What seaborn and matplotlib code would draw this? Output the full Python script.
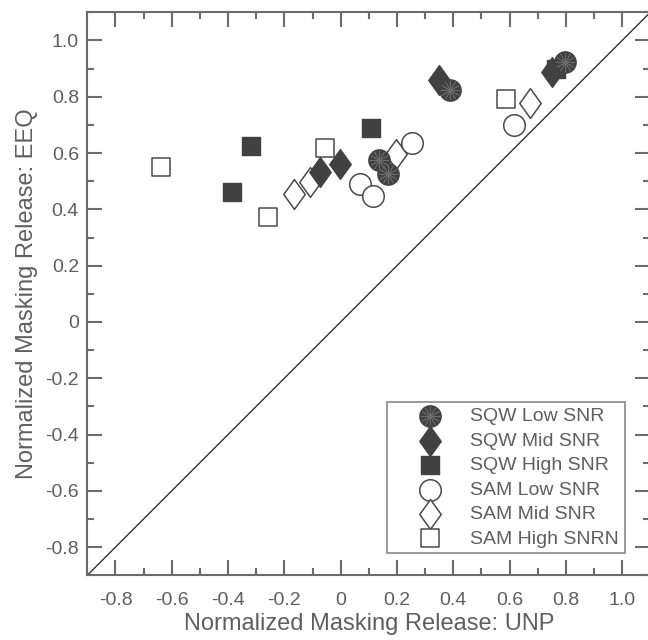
import numpy as np
import pandas as pd
import matplotlib
matplotlib.use("Agg")
import matplotlib.pyplot as plt
import seaborn as sns
from matplotlib.ticker import FixedLocator, FixedFormatter, MultipleLocator
from matplotlib.markers import MarkerStyle
from matplotlib.path import Path
from matplotlib.legend_handler import HandlerTuple

# ---------------- data ----------------
sqw_low_x = [0.138, 0.167, 0.387, 0.796]
sqw_low_y = [0.577, 0.526, 0.825, 0.923]
sqw_mid_x = [-0.073, -0.002, 0.349, 0.752]
sqw_mid_y = [0.532, 0.562, 0.858, 0.887]
sqw_high_x = [-0.387, -0.317, 0.108, 0.765]
sqw_high_y = [0.462, 0.624, 0.688, 0.900]
sam_low_x = [0.068, 0.114, 0.255, 0.615]
sam_low_y = [0.491, 0.446, 0.636, 0.701]
sam_mid_x = [-0.167, -0.110, 0.196, 0.674]
sam_mid_y = [0.455, 0.496, 0.597, 0.777]
sam_high_x = [-0.637, -0.259, -0.055, 0.586]
sam_high_y = [0.550, 0.374, 0.619, 0.793]

series_labels = ["SQW Low SNR", "SQW Mid SNR", "SQW High SNR",
                 "SAM Low SNR", "SAM Mid SNR", "SAM High SNRN"]
tick_values = [-0.8, -0.6, -0.4, -0.2, 0.0, 0.2, 0.4, 0.6, 0.8, 1.0]
tick_labels = ["-0.8", "-0.6", "-0.4", "-0.2", "0", "0.2", "0.4", "0.6", "0.8", "1.0"]
x_label = "Normalized Masking Release: UNP"
y_label = "Normalized Masking Release: EEQ"

# ---------------- style ----------------
sns.set_theme(style="white")
plt.rcParams["font.family"] = ["Liberation Sans", "DejaVu Sans"]
GREY = "#6b6b6b"
TXT = "#5f5f5f"
DARK = "#414141"
OPEN_EDGE = "#4a4a4a"

diamond = MarkerStyle(Path([(0, 1), (0.72, 0), (0, -1), (-0.72, 0), (0, 1)],
                           [Path.MOVETO, Path.LINETO, Path.LINETO, Path.LINETO, Path.CLOSEPOLY]))

fig = plt.figure(figsize=(6.48, 6.40), dpi=100)
ax = fig.add_axes([87.3 / 648, 64.7 / 640, 563 / 648, 563 / 640])

lim = (-0.9, 1.1)
ax.plot(lim, lim, color="#333333", lw=1.0, zorder=1)

frames = {
    "SAM High SNRN": (sam_high_x, sam_high_y),
    "SAM Mid SNR": (sam_mid_x, sam_mid_y),
    "SAM Low SNR": (sam_low_x, sam_low_y),
    "SQW High SNR": (sqw_high_x, sqw_high_y),
    "SQW Mid SNR": (sqw_mid_x, sqw_mid_y),
    "SQW Low SNR": (sqw_low_x, sqw_low_y),
}
styles = {
    "SAM High SNRN": dict(marker="s", s=172, facecolor="white", edgecolor=OPEN_EDGE, linewidth=1.1),
    "SAM Mid SNR": dict(marker=diamond, s=460, facecolor="white", edgecolor=OPEN_EDGE, linewidth=1.1),
    "SAM Low SNR": dict(marker="o", s=240, facecolor="white", edgecolor=OPEN_EDGE, linewidth=1.1),
    "SQW High SNR": dict(marker="s", s=172, facecolor=DARK, edgecolor=DARK, linewidth=1.0),
    "SQW Mid SNR": dict(marker=diamond, s=460, facecolor=DARK, edgecolor=DARK, linewidth=1.0),
    "SQW Low SNR": dict(marker="o", s=235, facecolor=DARK, edgecolor=DARK, linewidth=1.0),
}

handles = {}
z = 3
for name, (xs, ys) in frames.items():
    df = pd.DataFrame({"x": xs, "y": ys})
    st = styles[name]
    sns.scatterplot(data=df, x="x", y="y", ax=ax, marker=st["marker"], s=st["s"],
                    color=st["facecolor"], edgecolor=st["edgecolor"],
                    linewidth=st["linewidth"], zorder=z, legend=False)
    handles[name] = ax.collections[-1]
    z += 1

# starburst texture on SQW low circles
df_low = pd.DataFrame({"x": sqw_low_x, "y": sqw_low_y})
sns.scatterplot(data=df_low, x="x", y="y", ax=ax, marker=(12, 2, 0), s=190,
                color="#6c6c6c", linewidth=0.45, zorder=z, legend=False)
star_handle = ax.collections[-1]

ax.set_xlim(lim)
ax.set_ylim(lim)
ax.set_aspect("equal", adjustable="box")

for axis in (ax.xaxis, ax.yaxis):
    axis.set_major_locator(FixedLocator(tick_values))
    axis.set_major_formatter(FixedFormatter(tick_labels))
    axis.set_minor_locator(MultipleLocator(0.1))

ax.tick_params(which="both", direction="in", top=True, right=True, bottom=True, left=True,
               color=GREY, labelcolor=TXT, labelsize=14)
ax.tick_params(which="major", length=10.8, width=1.5)
ax.tick_params(which="minor", length=5.2, width=1.5)
ax.tick_params(axis="x", which="major", pad=12)
ax.tick_params(axis="y", which="major", pad=6)

for sp in ax.spines.values():
    sp.set_color(GREY)
    sp.set_linewidth(1.5)
    sp.set_visible(True)

ax.set_xlabel(x_label, fontsize=17, color=TXT, labelpad=3)
ax.set_ylabel(y_label, fontsize=17, color=TXT, labelpad=5)

leg_handles = [(handles["SQW Low SNR"], star_handle), handles["SQW Mid SNR"], handles["SQW High SNR"],
               handles["SAM Low SNR"], handles["SAM Mid SNR"], handles["SAM High SNRN"]]
leg = ax.legend(leg_handles, series_labels, loc="lower left", bbox_to_anchor=(0.532, 0.039),
                borderaxespad=0, frameon=True, fancybox=False, fontsize=14,
                handlelength=3.8, handletextpad=0.2, labelspacing=0.35, borderpad=0.3,
                scatterpoints=1, handler_map={tuple: HandlerTuple(ndivide=1, pad=0)})
leg.get_frame().set_edgecolor(GREY)
leg.get_frame().set_linewidth(1.2)
for t in leg.get_texts():
    t.set_color(TXT)

fig.savefig("out.png", dpi=100)
